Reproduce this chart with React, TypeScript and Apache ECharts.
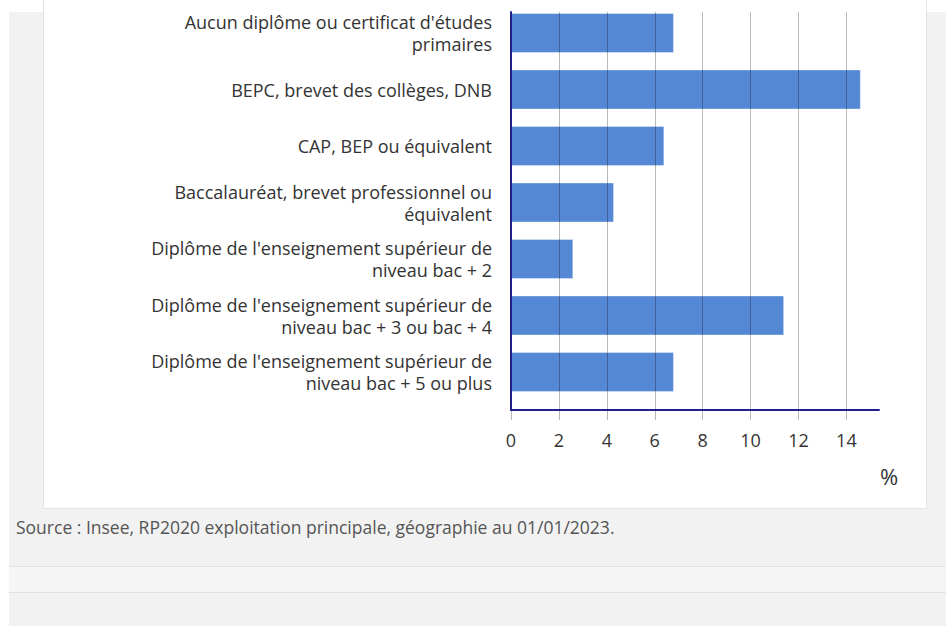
import React, { useEffect, useRef } from "react";
import * as echarts from "echarts";

const categories = [
  "Aucun diplôme ou certificat d'études\nprimaires",
  "BEPC, brevet des collèges, DNB",
  "CAP, BEP ou équivalent",
  "Baccalauréat, brevet professionnel ou\néquivalent",
  "Diplôme de l'enseignement supérieur de\nniveau bac + 2",
  "Diplôme de l'enseignement supérieur de\nniveau bac + 3 ou bac + 4",
  "Diplôme de l'enseignement supérieur de\nniveau bac + 5 ou plus",
];
const values = [6.8, 14.6, 6.4, 4.3, 2.6, 11.4, 6.8];
const tickValues = [0, 2, 4, 6, 8, 10, 12, 14];
const axisMax = 15.36;
const unitLabel = "%";
const sourceText = "Source : Insee, RP2020 exploitation principale, géographie au 01/01/2023.";

const FONT = "'Open Sans', 'Noto Sans', sans-serif";
const NAVY = "#1f1f8f";
const GRID = "rgba(0,0,0,0.28)";

export default function App() {
  const ref = useRef<HTMLDivElement>(null);
  useEffect(() => {
    if (!ref.current) return;
    const chart = echarts.init(ref.current, undefined, { renderer: "svg" });
    chart.setOption({
      animation: false,
      textStyle: { fontFamily: FONT },
      grid: [
        { left: 511, right: 67, top: 4.75, bottom: 225.75 },
        { left: 511, right: 67, top: 12, bottom: 216 },
      ],
      xAxis: [
        { type: "value", gridIndex: 0, min: 0, max: axisMax, show: false },
        {
          type: "value",
          gridIndex: 1,
          min: 0,
          max: axisMax,
          interval: 2,
          z: 5,
          axisLine: { show: true, lineStyle: { color: NAVY, width: 2 } },
          axisTick: {
            show: true,
            length: 10,
            customValues: tickValues,
            lineStyle: { color: GRID, width: 1 },
          },
          axisLabel: {
            customValues: tickValues,
            fontSize: 18,
            color: "#333",
            fontFamily: FONT,
            margin: 21,
          },
          splitLine: {
            show: true,
            showMinLine: false,
            lineStyle: { color: GRID, width: 1 },
          },
        },
      ],
      yAxis: [
        {
          type: "category",
          gridIndex: 0,
          inverse: true,
          data: categories,
          axisLine: { show: false },
          axisTick: { show: false },
          splitLine: { show: false },
          axisLabel: {
            fontSize: 18,
            color: "#333",
            fontFamily: FONT,
            margin: 19,
            lineHeight: 22,
            align: "right",
            interval: 0,
          },
        },
        {
          type: "value",
          gridIndex: 1,
          min: 0,
          max: 1,
          z: 6,
          axisLine: { show: true, lineStyle: { color: NAVY, width: 2 } },
          axisTick: { show: false },
          axisLabel: { show: false },
          splitLine: { show: false },
        },
      ],
      series: [
        {
          type: "bar",
          xAxisIndex: 0,
          yAxisIndex: 0,
          data: values,
          barWidth: 40,
          itemStyle: {
            color: "#5588d4",
            borderColor: "rgba(255,255,255,0.35)",
            borderWidth: 1,
          },
        },
      ],
      graphic: [
        {
          type: "text",
          x: 880,
          y: 476,
          style: {
            text: unitLabel,
            fontSize: 22,
            fill: "#333",
            fontFamily: FONT,
            textVerticalAlign: "middle",
          },
        },
        {
          type: "text",
          x: 16,
          y: 527,
          style: {
            text: sourceText,
            fontSize: 17.5,
            fill: "#555",
            fontFamily: FONT,
            textVerticalAlign: "middle",
          },
        },
      ],
    });
    return () => chart.dispose();
  }, []);

  return (
    <div style={{ position: "absolute", left: 0, top: 0, width: 946, height: 626, background: "#fff", overflow: "hidden" }}>
      <div style={{ position: "absolute", left: 9, top: 12, width: 937, height: 614, background: "#f2f2f2" }} />
      <div style={{ position: "absolute", left: 9, top: 566, width: 937, height: 27, background: "#f5f5f5", borderTop: "1px solid #e2e2e2", borderBottom: "1px solid #e2e2e2", boxSizing: "border-box" }} />
      <div style={{ position: "absolute", left: 43, top: -2, width: 884, height: 511, background: "#fff", border: "1px solid #e4e4e4", boxSizing: "border-box" }} />
      <div ref={ref} style={{ position: "absolute", left: 0, top: 0, width: 946, height: 626 }} />
    </div>
  );
}
